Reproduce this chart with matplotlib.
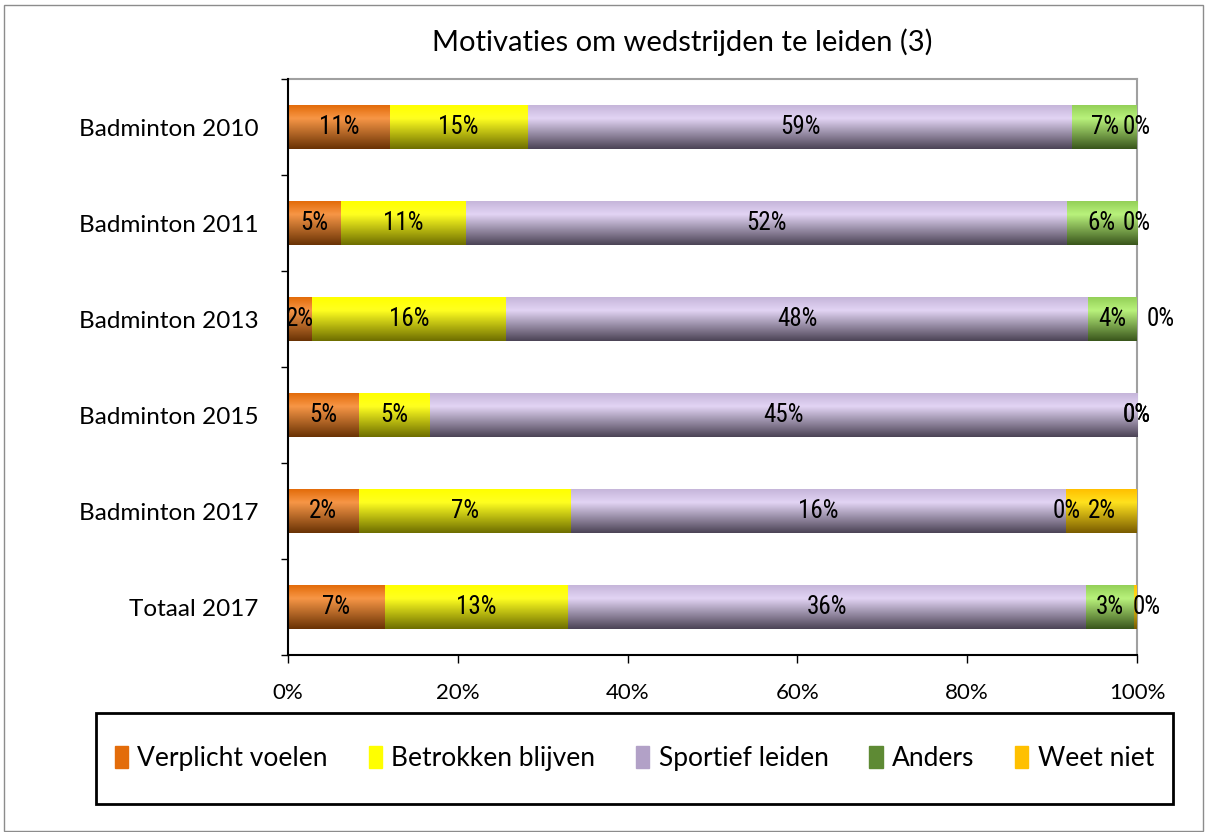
import numpy as np
import matplotlib
matplotlib.use("Agg")
import matplotlib.pyplot as plt
from matplotlib import font_manager
from matplotlib.colors import to_rgb
from matplotlib.patches import Rectangle

# categories, top to bottom
categories = ["Badminton 2010", "Badminton 2011", "Badminton 2013",
              "Badminton 2015", "Badminton 2017", "Totaal 2017"]
series_names = ["Verplicht voelen", "Betrokken blijven", "Sportief leiden",
                "Anders", "Weet niet"]

# raw percentages (bars are stacked to 100%)
verplicht = [11, 4.6, 2, 4.5, 2.3, 6.8]
betrokken = [15, 10.9, 16, 4.5, 6.9, 12.9]
sportief = [59, 52.2, 48, 45, 16.1, 36.4]
anders = [7, 6.1, 4, 0, 0, 3.4]
weet_niet = [0, 0, 0, 0, 2.3, 0.2]

x_ticks = [0, 20, 40, 60, 80, 100]

# gradient stops per series: top edge, highlight, bottom edge
gradients = [
    ["#E36C0A", "#F79646", "#6A3305"],
    ["#FFFF00", "#FFFF20", "#6E6E00"],
    ["#C6B6DA", "#E2D4F4", "#4C4456"],
    ["#94D058", "#B9F27C", "#3A561C"],
    ["#FFC000", "#FFE21E", "#7A5C00"],
]
legend_colors = ["#E36C0A", "#FFFF00", "#B2A1C7", "#5E8A34", "#FFC000"]

main_font = ["Lato", "DejaVu Sans"]


def pick_label_font():
    """Narrow sans for the data labels, like Arial Narrow in the original."""
    fonts = font_manager.fontManager.ttflist
    for name in ["Liberation Sans Narrow", "Arial Narrow", "Roboto Condensed",
                 "Open Sans Condensed", "DejaVu Sans"]:
        for f in fonts:
            if f.name != name or f.style != "normal" or f.weight not in (400, "normal", "regular"):
                continue
            if name == "DejaVu Sans" and f.stretch != "condensed":
                continue
            return font_manager.FontProperties(fname=f.fname, size=18)
    return font_manager.FontProperties(family="Liberation Sans", size=15)


label_prop = pick_label_font()

# a few labels were dragged off the bar end in the original chart (points)
label_nudge = {(2, 4): 17, (5, 4): 8}


def gradient_image(stops, n=64):
    top, mid, bot = [np.array(to_rgb(c)) for c in stops]
    rows = []
    for v in np.linspace(0, 1, n):
        if v < 0.3:
            f = v / 0.3
            rows.append(top * (1 - f) + mid * f)
        else:
            f = (v - 0.3) / 0.7
            rows.append(mid * (1 - f) + bot * f)
    return np.array(rows).reshape(n, 1, 3)


data = np.array([verplicht, betrokken, sportief, anders, weet_niet])
totals = data.sum(axis=0)
shares = data / totals * 100

fig = plt.figure(figsize=(12.08, 8.32), dpi=100)
ax = fig.add_axes([288 / 1208, 1 - 655 / 832, (1137 - 288) / 1208, (655 - 79) / 832])

ypos = np.arange(len(categories))[::-1]
bar_h = 0.45
left = np.zeros(len(categories))
for s in range(len(series_names)):
    bars = ax.barh(ypos, shares[s], left=left, height=bar_h,
                   color=legend_colors[s], linewidth=0, zorder=2)
    img = gradient_image(gradients[s])
    for i, patch in enumerate(bars):
        w = shares[s][i]
        if w > 0:
            im = ax.imshow(img, extent=(left[i], left[i] + w,
                                        ypos[i] - bar_h / 2, ypos[i] + bar_h / 2),
                           origin="upper", aspect="auto", zorder=3,
                           interpolation="bilinear")
            im.set_clip_path(patch)
        label = f"{int(data[s][i] + 0.5)}%"
        ax.annotate(label, (left[i] + w / 2, ypos[i]),
                    xytext=(label_nudge.get((i, s), 0), 0),
                    textcoords="offset points", ha="center", va="center",
                    fontproperties=label_prop, zorder=5,
                    annotation_clip=False)
    left = left + shares[s]

ax.set_xlim(0, 100)
ax.set_ylim(-0.5, len(categories) - 0.5)
ax.set_xticks(x_ticks)
ax.set_xticklabels([f"{v}%" for v in x_ticks], fontsize=16, family=main_font)
ax.set_yticks(ypos)
ax.set_yticklabels(categories, fontsize=17.5, family=main_font)
ax.set_yticks(np.arange(-0.5, len(categories)), minor=True)
ax.tick_params(axis="y", which="major", length=0, pad=21)
ax.tick_params(axis="y", which="minor", length=5, width=1)
ax.tick_params(axis="x", length=6, width=1, pad=14)

for side in ["top", "right"]:
    ax.spines[side].set_color("#A0A0A0")
    ax.spines[side].set_linewidth(1.5)
for side in ["left", "bottom"]:
    ax.spines[side].set_color("black")
    ax.spines[side].set_linewidth(1.5)
    ax.spines[side].set_zorder(6)

fig.text(682 / 1208, 1 - 42 / 832, "Motivaties om wedstrijden te leiden (3)",
         ha="center", va="center", fontsize=21, family=main_font)

# outer chart border
fig.patches.append(Rectangle((4 / 1208, 1 / 832), 1199 / 1208, 826 / 832,
                             transform=fig.transFigure, fill=False,
                             edgecolor="#8C8C8C", linewidth=1))

# legend box
lx0, ly0, lx1, ly1 = 96, 713, 1173, 804
fig.patches.append(Rectangle((lx0 / 1208, 1 - ly1 / 832), (lx1 - lx0) / 1208,
                             (ly1 - ly0) / 832, transform=fig.transFigure,
                             fill=False, edgecolor="black", linewidth=2))
handles = [Rectangle((0, 0), 1, 1, color=c) for c in legend_colors]
fig.legend(handles, series_names, loc="center",
           bbox_to_anchor=((lx0 + lx1) / 2 / 1208, 1 - (ly0 + ly1) / 2 / 832),
           ncol=5, frameon=False, prop={"family": main_font, "size": 19},
           handlelength=0.5, handleheight=0.9, handletextpad=0.35,
           columnspacing=1.55)

fig.savefig("out.png", dpi=100)
